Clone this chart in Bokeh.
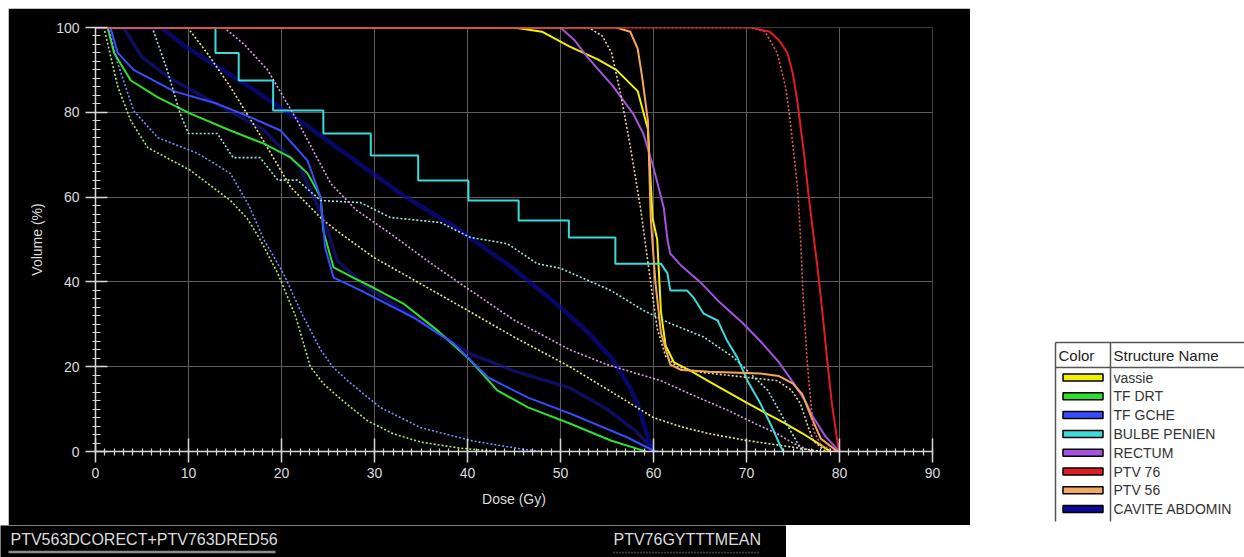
from bokeh.plotting import figure
from bokeh.models import Range1d, SingleIntervalTicker, FixedTicker, ColumnDataSource, Spacer
from bokeh.layouts import row, column
from bokeh.core.properties import value
from bokeh.embed import file_html
from bokeh.resources import INLINE

# ---------------- data (dose Gy, volume %) ----------------
VASSIE_SOLID = [(0, 100), (45, 100), (48, 99), (51, 95.5), (54, 92.5), (56, 90), (58.3, 85), (59.4, 76),
                (59.9, 55), (60.4, 50), (60.8, 33), (61.3, 25), (62.2, 21), (64, 19), (66, 16.5), (70, 11.5),
                (74, 6.8), (76, 4.3), (78, 1.5), (79, 0)]
VASSIE_DOT = [(0, 100), (9.9, 100), (12, 94), (14.5, 86), (17.4, 75.7), (21, 62.3), (24.5, 54.5), (26.3, 51.5),
              (29.9, 45.8), (35, 39.5), (40, 33.3), (45, 27), (51, 20), (56.5, 12.7), (60, 8), (63, 5.8),
              (66, 4.2), (70, 2.6), (75, 1), (78, 0)]
TFDRT_SOLID = [(0, 100), (1.3, 100), (2, 94), (3.8, 87.5), (6.7, 83.5), (10.2, 79.7), (14.5, 75.7), (18.1, 72.6),
               (21, 69.3), (22.8, 65.6), (24.2, 60), (24.5, 52), (25.6, 43.4), (27.7, 41), (30, 38.5),
               (33.1, 34.9), (36.8, 28.5), (40.3, 21.5), (43.2, 14.4), (46.5, 10.4), (51, 6.6), (55.4, 2.6),
               (58.9, 0.2), (59.2, 0)]
TFDRT_DOT = [(0, 100), (0.9, 100), (2.4, 86), (3.8, 78), (5.6, 71.7), (10.2, 66.3), (14.5, 59.2), (16.3, 55),
             (17.7, 50), (19.6, 42), (21.5, 32), (23.1, 20), (24.5, 16), (26.3, 12.5), (29.2, 7.3), (32, 4.2),
             (35, 2.2), (39.2, 0.8), (43, 0)]
TFGCHE_SOLID = [(0, 100), (1.6, 100), (2.4, 94), (4.1, 90), (8.4, 85), (13.1, 82), (16.7, 78.8), (19.9, 75.7),
                (22.8, 68.6), (24.2, 60), (24.7, 48), (25.6, 41), (28.5, 38), (34.2, 31.6), (38.5, 25.5),
                (42.2, 17.5), (46.5, 12.7), (51, 9), (57.2, 3.3), (60, 0.2), (60.5, 0)]
TFGCHE_DOT = [(0, 100), (1.4, 100), (2.4, 91.5), (4.1, 80.4), (6.7, 74), (11, 70.3), (14.5, 65.6), (16.5, 58),
              (18.1, 50), (20.2, 42), (22.3, 32), (24.2, 24), (25.5, 20), (27.1, 16.7), (30.6, 10.4),
              (34.9, 5.7), (40.3, 2.6), (46, 0.5), (48, 0)]
BULBE_SOLID = [(0, 100), (12.9, 100), (12.9, 94), (15.4, 94), (15.4, 87.5), (19.1, 87.5), (19.1, 80.4),
               (24.5, 80.4), (24.5, 75), (29.6, 75), (29.6, 69.8), (34.7, 69.8), (34.7, 63.9), (40.1, 63.9),
               (40.1, 59.2), (45.5, 59.2), (45.5, 54.5), (50.9, 54.5), (50.9, 50.5), (55.9, 50.5), (55.9, 44.3),
               (60.8, 44.3), (61.5, 42), (61.8, 38), (63.6, 38), (64.3, 36.3), (65.4, 32.5), (66.9, 30.9),
               (67.9, 26.2), (69, 22.2), (70.1, 16.7), (71.5, 11.3), (72.9, 5), (73.7, 1), (74, 0)]
BULBE_DOT = [(0, 100), (6.1, 100), (7.7, 90), (9.1, 79.7), (10, 75), (13.1, 75), (14.8, 69.3), (17.7, 69.3),
             (19.6, 64), (21.7, 64), (24.2, 59.2), (28.5, 58.7), (31.7, 55.2), (37.1, 54), (40.3, 50.5),
             (44.3, 49), (47.5, 44.3), (50, 43.2), (55.4, 38), (58.9, 33.3), (61.8, 30.2), (65.4, 27),
             (68.6, 22.2), (72.3, 14.4), (74.7, 5), (76, 0)]
RECTUM_SOLID = [(0, 100), (50, 100), (51.5, 97), (52.9, 93), (55.7, 86), (57.8, 79.7), (58.9, 75), (60, 67),
                (61.1, 57.5), (61.5, 50), (61.8, 46.7), (62.9, 44), (65, 40), (67.2, 35), (69.5, 30.5),
                (71.5, 26), (73.5, 21), (75.1, 16), (76.3, 12), (77.2, 8), (78.5, 3.5), (80, 0)]
RECTUM_DOT = [(0, 100), (13.8, 100), (16, 96), (18.5, 90), (21.7, 78), (25.3, 63.2), (28, 57), (31.7, 51.4),
              (36, 44.5), (40.3, 38), (45, 31), (51, 24), (55, 20.5), (60.8, 16.7), (64, 13.5), (68, 9.7),
              (71, 6.5), (73.3, 4.2), (75, 2), (77, 0)]
PTV76_SOLID = [(0, 100), (70.5, 100), (72.5, 99), (73.5, 97), (74.4, 94), (75, 89), (75.5, 82), (76.2, 70),
               (76.7, 60), (77.2, 51), (77.6, 44), (78.2, 32), (78.7, 21), (79.2, 11), (79.8, 2), (80, 0)]
PTV76_DOT = [(0, 100), (70.5, 100), (72, 99), (73.3, 94), (74.2, 86), (74.7, 78), (75.5, 62), (75.8, 51),
             (76.1, 36), (76.5, 22), (76.7, 16.7), (77.2, 5), (78, 1.5), (79.5, 0)]
PTV56_SOLID = [(0, 100), (56, 100), (57.5, 99), (58.3, 95), (58.8, 88), (59.4, 78), (59.7, 55), (60.2, 40),
               (60.8, 28), (61.8, 20.5), (63, 19.2), (66, 18.8), (71.5, 18.4), (73.5, 17.8), (75, 16),
               (76, 13.5), (77, 8), (78, 3), (79.8, 0)]
PTV56_DOT = [(0, 100), (53, 100), (54.5, 98), (55.5, 94), (56.5, 84), (57.5, 72), (58.6, 57.5), (59.5, 43),
             (60.4, 29), (61.3, 22.5), (62.5, 20), (65, 18.7), (70, 17.5), (73.3, 16.7), (74.8, 14.5),
             (75.8, 11.3), (76.6, 6), (77.2, 2.5), (78.5, 0)]
CAVITE_SOLID = [(0, 100), (7, 100), (10, 95), (15.5, 87.5), (22, 78), (28, 68.5), (33, 60.5), (39, 52.5),
                (45, 43), (50, 34), (53, 28), (55.5, 22), (57.5, 15), (58.5, 10), (59.3, 4), (59.7, 1.5), (60, 0)]
CAVITE_DOT = [(0, 100), (3, 100), (5, 93), (8, 88), (13, 82), (18, 76), (22, 67), (24.5, 55), (26, 45),
              (29, 39), (34, 32), (40.3, 23), (45, 19), (51, 15), (55, 10), (58, 5), (59.5, 1.5), (60, 0)]

STRUCTURES = ["vassie", "TF DRT", "TF GCHE", "BULBE PENIEN", "RECTUM", "PTV 76", "PTV 56", "CAVITE ABDOMIN"]
COLORS = ["#f2f200", "#2ee02e", "#3a4cff", "#3cdada", "#a452e0", "#e01c24", "#f2aa5a", "#0a0a96"]
DOT_COLORS = ["#f0ea80", "#b0e868", "#7d8cff", "#9ae6e6", "#d6a2ea", "#e05a5a", "#ead0a8", "#1a1aa8"]
SOLID_CURVES = [VASSIE_SOLID, TFDRT_SOLID, TFGCHE_SOLID, BULBE_SOLID, RECTUM_SOLID, PTV76_SOLID,
                PTV56_SOLID, CAVITE_SOLID]
DOT_CURVES = [VASSIE_DOT, TFDRT_DOT, TFGCHE_DOT, BULBE_DOT, RECTUM_DOT, PTV76_DOT, PTV56_DOT, CAVITE_DOT]

X_TICK_STEP = 10
Y_TICK_STEP = 20
X_MAX = 90
PLAN_LEFT = "PTV563DCORECT+PTV763DRED56"
PLAN_RIGHT = "PTV76GYTTTMEAN"

FONT = value("Liberation Sans")
TXT = "#dcdcdc"

# ---------------- main DVH plot ----------------
p = figure(width=962, height=517, x_range=Range1d(0, X_MAX), y_range=Range1d(0, 100),
           output_backend="svg", toolbar_location=None,
           min_border_left=87, min_border_right=38, min_border_top=19, min_border_bottom=74,
           background_fill_color="black", border_fill_color="black", outline_line_color=None,
           x_axis_label="Dose (Gy)", y_axis_label="Volume (%)")

p.xaxis.ticker = SingleIntervalTicker(interval=X_TICK_STEP, num_minor_ticks=10)
p.yaxis.ticker = SingleIntervalTicker(interval=Y_TICK_STEP, num_minor_ticks=10)
for ax in (p.xaxis[0], p.yaxis[0]):
    ax.axis_line_color = "#d8d8d8"
    ax.axis_line_width = 1.5
    ax.major_tick_line_color = "#d8d8d8"
    ax.minor_tick_line_color = "#d8d8d8"
    ax.major_tick_line_width = 1.5
    ax.minor_tick_line_width = 1.2
    ax.major_label_text_color = TXT
    ax.major_label_text_font = "Liberation Sans"
    ax.major_label_text_font_size = "14px"
    ax.axis_label_text_color = TXT
    ax.axis_label_text_font = "Liberation Sans"
    ax.axis_label_text_font_size = "14px"
    ax.axis_label_text_font_style = "normal"
p.xaxis.major_tick_in = 13
p.xaxis.major_tick_out = 11
p.xaxis.minor_tick_in = 3
p.xaxis.minor_tick_out = 4
p.xaxis.major_label_standoff = 5
p.xaxis.axis_label_standoff = 10
p.yaxis.major_tick_in = 12
p.yaxis.major_tick_out = 10
p.yaxis.minor_tick_in = 5
p.yaxis.minor_tick_out = 3
p.yaxis.major_label_standoff = 6
p.yaxis.axis_label_standoff = 8

p.xgrid.ticker = FixedTicker(ticks=list(range(X_TICK_STEP, X_MAX, X_TICK_STEP)))
p.xgrid.grid_line_color = "#5c5c5c"
p.ygrid.grid_line_color = "#5c5c5c"
p.xgrid.grid_line_width = 1
p.ygrid.grid_line_width = 1

# navy (CAVITE) underneath, drawn as soft thick lines
order = [7, 0, 1, 2, 3, 4, 6, 5]
for i in order:
    sc = SOLID_CURVES[i]
    dc = DOT_CURVES[i]
    ds = ColumnDataSource(dict(x=[d for d, v in dc], y=[v for d, v in dc]))
    ss = ColumnDataSource(dict(x=[d for d, v in sc], y=[v for d, v in sc]))
    if i == 7:
        p.line("x", "y", source=ds, line_color=DOT_COLORS[i], line_width=3.5, line_alpha=0.55)
        p.line("x", "y", source=ss, line_color=COLORS[i], line_width=4.5, line_alpha=0.7)
    else:
        p.line("x", "y", source=ds, line_color=DOT_COLORS[i], line_width=1.6, line_dash="2 2")
        p.line("x", "y", source=ss, line_color=COLORS[i], line_width=2)

# ---------------- bottom strip with plan names ----------------
s = figure(width=786, height=32, x_range=Range1d(0, 786), y_range=Range1d(557, 525),
           output_backend="svg", toolbar_location=None, x_axis_type=None, y_axis_type=None,
           min_border=0, background_fill_color="black", border_fill_color="black", outline_line_color=None)
s.xgrid.visible = False
s.ygrid.visible = False
s.text(x=[10], y=[539], text=[PLAN_LEFT], text_color=TXT, text_font=FONT,
       text_font_size="16px", text_baseline="middle")
s.line(x=[8, 275], y=[551.5, 551.5], line_color="#8c8c8c", line_width=2.5)
s.text(x=[613], y=[539], text=[PLAN_RIGHT], text_color=TXT, text_font=FONT,
       text_font_size="16px", text_baseline="middle")
s.line(x=[613, 760], y=[552, 552], line_color="#8c8c8c", line_width=1.5, line_dash="1 2")

# ---------------- legend table ----------------
lg = figure(width=274, height=557, x_range=Range1d(970, 1244), y_range=Range1d(557, 0),
            output_backend="svg", toolbar_location=None, x_axis_type=None, y_axis_type=None,
            min_border=0, background_fill_color="white", border_fill_color="white", outline_line_color=None)
lg.xgrid.visible = False
lg.ygrid.visible = False
top, head, bottom = 342, 367, 521
lg.segment(x0=[1055, 1110, 1055, 1055], y0=[top, top, top, head],
           x1=[1055, 1110, 1244, 1244], y1=[bottom, bottom, top, head],
           line_color="#555555", line_width=1.5)
lg.text(x=[1058, 1113], y=[355, 355], text=["Color", "Structure Name"], text_color="#222222",
        text_font=FONT, text_font_size="15px", text_baseline="middle")
row_y = [377 + k * 18.8 for k in range(len(STRUCTURES))]
lg.rect(x=[1082.5] * len(STRUCTURES), y=row_y, width=40, height=7, fill_color=COLORS,
        line_color="black", line_width=1.5)
lg.text(x=[1113] * len(STRUCTURES), y=row_y, text=STRUCTURES, text_color="#333333",
        text_font=FONT, text_font_size="14px", text_baseline="middle")

left = column(Spacer(width=970, height=8), row(Spacer(width=8, height=517), p), s)
layout = row(left, lg)
open("out.html", "w").write(file_html(layout, INLINE))
